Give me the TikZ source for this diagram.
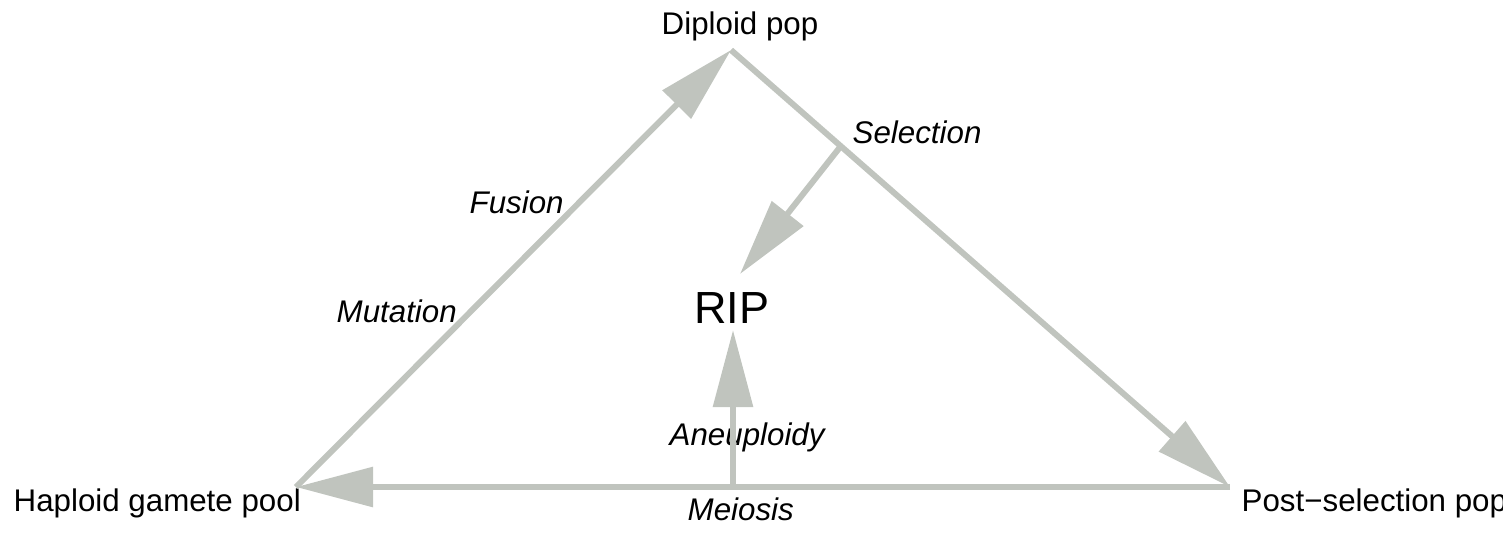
\documentclass[tikz,border=0pt]{standalone}
\usepackage{fontspec}
\setmainfont{Liberation Sans}
\usetikzlibrary{arrows.meta,calc,positioning}
\definecolor{edge1}{RGB}{192,196,190}

\begin{document}
\begin{tikzpicture}[x=0.01cm,y=-0.01cm,
  edge/.style={draw=edge1, line width=1.7pt, -{Triangle[length=0.77cm,width=0.39cm]}},
  vlab/.style={inner sep=0pt, font=\fontsize{8.9}{10}\selectfont},
  elab/.style={inner sep=0pt, font=\fontsize{8.9}{10}\selectfont\itshape}]

\useasboundingbox (0,0) rectangle (1503,532);
\clip (0,0) rectangle (1503,532);

% ----- vertices (pixel coords, y down) -----
\coordinate (dip) at (731,50);
\coordinate (hap) at (296,487);
\coordinate (post) at (1230,487);
\coordinate (ane) at (733,487);
\coordinate (sel) at ($(dip)!0.22!(post)$);
\coordinate (selend) at (740,274);

% ----- vertex labels -----
\node[vlab, anchor=base] (diplbl) at (740,34) {Diploid pop};
\node[vlab, anchor=base west] (haplbl) at (13,511) {Haploid gamete pool};
\node[vlab, anchor=base west] (postlbl) at (1241,511) {Post−selection pop};
\node[inner sep=0pt, outer sep=0.07cm, font=\fontsize{12.8}{15}\selectfont, anchor=base] (rip) at (732,323) {RIP};

% ----- edge labels -----
\node[elab, anchor=base west] (sellbl) at (852,143) {Selection};
\node[elab, anchor=base west] (fuslbl) at (469,213) {Fusion};
\node[elab, anchor=base west] (mutlbl) at (336,322) {Mutation};
\node[elab, anchor=base west] (anelbl) at (669,445) {Aneuploidy};
\node[elab, anchor=base west] (meilbl) at (687,520) {Meiosis};

% ----- edges -----
\draw[edge] (hap) -- (dip);
\draw[edge] (dip) -- (post);
\draw[edge] (post) -- (hap);
\draw[edge] (sel) -- (selend);
\draw[edge] (ane) -- (ane |- rip.south);

\end{tikzpicture}
\end{document}
